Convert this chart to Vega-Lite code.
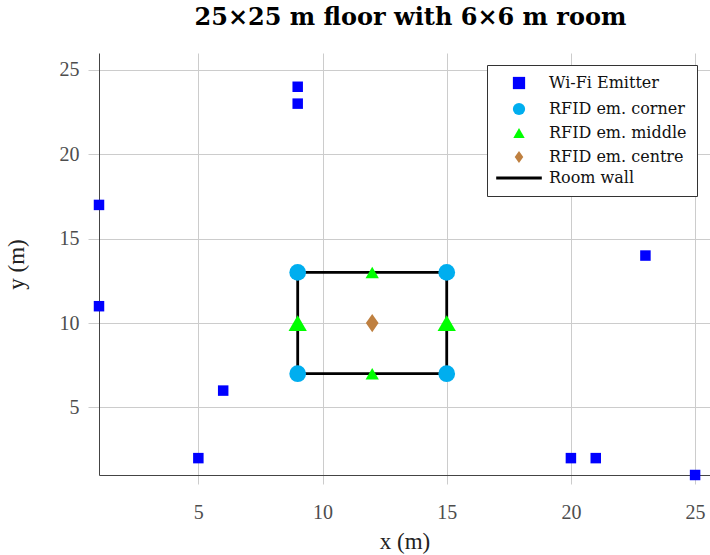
{
  "$schema": "https://vega.github.io/schema/vega-lite/v6.json",
  "width": 611,
  "height": 422,
  "autosize": {"type": "none"},
  "padding": {"left": 99, "top": 53, "right": 0, "bottom": 80},
  "background": "white",
  "title": {
    "text": "25×25 m floor with 6×6 m room",
    "font": "DejaVu Serif",
    "fontSize": 24,
    "fontWeight": "bold",
    "color": "#000000",
    "offset": 23,
    "dx": 6
  },
  "config": {
    "view": {"stroke": null},
    "axis": {
      "domainColor": "#444444",
      "domainWidth": 1,
      "gridColor": "#cccccc",
      "gridWidth": 1,
      "tickColor": "#cccccc",
      "labelFont": "Liberation Serif",
      "labelFontSize": 20,
      "labelColor": "#4d4d4d",
      "titleFont": "Liberation Serif",
      "titleFontSize": 23,
      "titleFontWeight": "normal",
      "titleColor": "#222222"
    },
    "legend": {
      "orient": "none",
      "legendX": 388,
      "legendY": 12,
      "padding": 10,
      "fillColor": "white",
      "strokeColor": "#333333",
      "labelFont": "DejaVu Serif",
      "labelFontSize": 16,
      "labelColor": "#111111",
      "labelOffset": 22,
      "symbolOffset": 14,
      "rowPadding": 0,
      "symbolOpacity": 1
    }
  },
  "datasets": {
    "emitters": [
      {"x": 1, "y": 17, "kind": "Wi-Fi Emitter"},
      {"x": 1, "y": 11, "kind": "Wi-Fi Emitter"},
      {"x": 9, "y": 24, "kind": "Wi-Fi Emitter"},
      {"x": 9, "y": 23, "kind": "Wi-Fi Emitter"},
      {"x": 6, "y": 6, "kind": "Wi-Fi Emitter"},
      {"x": 5, "y": 2, "kind": "Wi-Fi Emitter"},
      {"x": 20, "y": 2, "kind": "Wi-Fi Emitter"},
      {"x": 21, "y": 2, "kind": "Wi-Fi Emitter"},
      {"x": 23, "y": 14, "kind": "Wi-Fi Emitter"},
      {"x": 25, "y": 1, "kind": "Wi-Fi Emitter"},
      {"x": 9, "y": 13, "kind": "RFID em. corner"},
      {"x": 15, "y": 13, "kind": "RFID em. corner"},
      {"x": 9, "y": 7, "kind": "RFID em. corner"},
      {"x": 15, "y": 7, "kind": "RFID em. corner"},
      {"x": 12, "y": 13, "kind": "RFID em. middle"},
      {"x": 12, "y": 7, "kind": "RFID em. middle"},
      {"x": 9, "y": 10, "kind": "RFID em. middle"},
      {"x": 15, "y": 10, "kind": "RFID em. middle"},
      {"x": 12, "y": 10, "kind": "RFID em. centre"}
    ],
    "wall": [
      {"x": 9, "y": 7, "step": 0},
      {"x": 9, "y": 13, "step": 1},
      {"x": 15, "y": 13, "step": 2},
      {"x": 15, "y": 7, "step": 3},
      {"x": 9, "y": 7, "step": 4}
    ]
  },
  "encoding": {
    "x": {
      "field": "x",
      "type": "quantitative",
      "title": "x (m)",
      "scale": {"domain": [1, 25.6], "nice": false, "zero": false},
      "axis": {"values": [5, 10, 15, 20, 25], "tickSize": 9, "labelPadding": 18, "titlePadding": 8}
    },
    "y": {
      "field": "y",
      "type": "quantitative",
      "title": "y (m)",
      "scale": {"domain": [1, 26], "nice": false, "zero": false},
      "axis": {"values": [5, 10, 15, 20, 25], "tickSize": 11, "labelPadding": 9, "titlePadding": 31}
    }
  },
  "layer": [
    {
      "data": {"name": "wall"},
      "mark": {"type": "line", "color": "#000000", "strokeWidth": 2.8, "strokeCap": "square"},
      "encoding": {"order": {"field": "step", "type": "quantitative"}}
    },
    {
      "data": {"name": "emitters"},
      "mark": {"type": "point", "filled": true, "opacity": 1},
      "encoding": {
        "color": {
          "field": "kind",
          "type": "nominal",
          "scale": {
            "domain": ["Wi-Fi Emitter", "RFID em. corner", "RFID em. middle", "RFID em. centre", "Room wall"],
            "range": ["#0000ff", "#00aeef", "#00ff00", "#bf8040", "#000000"]
          },
          "legend": {
            "title": null,
            "encode": {
              "symbols": {
                "update": {
                  "size": {"signal": "datum.value === 'Room wall' ? 2080 : datum.value === 'RFID em. middle' ? 130 : 150"},
                  "stroke": {"signal": "datum.value === 'Room wall' ? '#000000' : 'transparent'"},
                  "strokeWidth": {"value": 3},
                  "opacity": {"value": 1}
                }
              }
            }
          }
        },
        "shape": {
          "field": "kind",
          "type": "nominal",
          "scale": {
            "domain": ["Wi-Fi Emitter", "RFID em. corner", "RFID em. middle", "RFID em. centre", "Room wall"],
            "range": ["square", "circle", "triangle-up", "M0,-1L0.7,0L0,1L-0.7,0Z", "stroke"]
          },
          "legend": {"title": null}
        },
        "size": {
          "condition": {"test": "datum.kind === 'RFID em. middle' && (datum.x === 9 || datum.x === 15)", "value": 335},
          "field": "kind",
          "type": "nominal",
          "scale": {
            "type": "ordinal",
            "domain": ["Wi-Fi Emitter", "RFID em. corner", "RFID em. middle", "RFID em. centre"],
            "range": [110, 280, 177, 330]
          },
          "legend": null
        }
      }
    }
  ]
}
